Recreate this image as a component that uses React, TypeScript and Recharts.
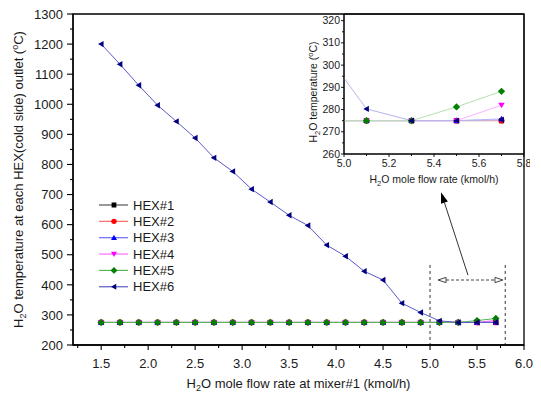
import React from 'react';
import { LineChart, Line, XAxis, YAxis, ReferenceLine, ReferenceArea, Legend } from 'recharts';

// ---------- data ----------
const flowRates = [1.5, 1.7, 1.9, 2.1, 2.3, 2.5, 2.7, 2.9, 3.1, 3.3, 3.5, 3.7, 3.9, 4.1, 4.3, 4.5, 4.7, 4.9, 5.1, 5.3, 5.5, 5.7];
const hex1 = [275, 275, 275, 275, 275, 275, 275, 275, 275, 275, 275, 275, 275, 275, 275, 275, 275, 275, 275, 275, 275, 275];
const hex2 = [275, 275, 275, 275, 275, 275, 275, 275, 275, 275, 275, 275, 275, 275, 275, 275, 275, 275, 275, 275, 275, 275];
const hex3 = [275, 275, 275, 275, 275, 275, 275, 275, 275, 275, 275, 275, 275, 275, 275, 275, 275, 275, 275, 275, 275, 275.8];
const hex4 = [275, 275, 275, 275, 275, 275, 275, 275, 275, 275, 275, 275, 275, 275, 275, 275, 275, 275, 275, 275, 275, 282];
const hex5 = [275, 275, 275, 275, 275, 275, 275, 275, 275, 275, 275, 275, 275, 275, 275, 275, 275, 275, 275, 275, 281.2, 288.2];
const hex6 = [1200, 1133, 1063, 997, 943, 888, 822, 777, 718, 675, 631, 597, 532, 495, 445, 416, 339, 308, 280.3, 275, 275, 275.4];

const seriesNames = ['HEX#1', 'HEX#2', 'HEX#3', 'HEX#4', 'HEX#5', 'HEX#6'];
const seriesKeys = ['hex1', 'hex2', 'hex3', 'hex4', 'hex5', 'hex6'];
const seriesValues = [hex1, hex2, hex3, hex4, hex5, hex6];
const markerColors = ['#000000', '#ff0000', '#0000ff', '#ff00ff', '#008000', '#000080'];
const lineColors = ['#555555', '#ff6a6a', '#6a6aff', '#ff6aff', '#55b855', '#5a5ac8'];
const insetLineColors = ['#9a9a9a', '#ffb0b0', '#b8b8ff', '#ffb0ff', '#b3e0b3', '#b4b4ea'];
const markerShapes = ['square', 'circle', 'up', 'down', 'diamond', 'left'];

const mainXTicks = [1.25, 1.5, 1.75, 2.0, 2.25, 2.5, 2.75, 3.0, 3.25, 3.5, 3.75, 4.0, 4.25, 4.5, 4.75, 5.0, 5.25, 5.5, 5.75, 6.0];
const mainXMajor = [1.5, 2.0, 2.5, 3.0, 3.5, 4.0, 4.5, 5.0, 5.5, 6.0];
const mainYTicks = [200, 250, 300, 350, 400, 450, 500, 550, 600, 650, 700, 750, 800, 850, 900, 950, 1000, 1050, 1100, 1150, 1200, 1250, 1300];
const mainYMajor = [200, 300, 400, 500, 600, 700, 800, 900, 1000, 1100, 1200, 1300];
const insetXTicks = [5.0, 5.1, 5.2, 5.3, 5.4, 5.5, 5.6, 5.7, 5.8];
const insetXMajor = [5.0, 5.2, 5.4, 5.6, 5.8];
const insetYTicks = [260, 265, 270, 275, 280, 285, 290, 295, 300, 305, 310, 315, 320];
const insetYMajor = [260, 270, 280, 290, 300, 310, 320];

// annotation positions (data units)
const zoomBoxX = [5.0, 5.8];
const zoomBoxTopY = 466;
const doubleArrowY = 416;
const doubleArrowX = [5.085, 5.776];
const arrowTail = { x: 5.404, y: 432 };
const arrowHead = { x: 5.117, y: 708 };

const tableData = flowRates.map((x, i) => {
  const row: any = { x };
  seriesKeys.forEach((k, j) => (row[k] = seriesValues[j][i]));
  return row;
});
const insetData = tableData.slice(17);

const FONT = '"Liberation Sans", Arial, sans-serif';
const TXT = '#1a1a1a';

// ---------- helpers ----------
const isIn = (v: number, arr: number[]) => arr.some((a) => Math.abs(a - v) < 1e-6);

function markerPath(shape: string, cx: number, cy: number, s: number) {
  switch (shape) {
    case 'square':
      return `M${cx - s * 0.8},${cy - s * 0.8}h${s * 1.6}v${s * 1.6}h${-s * 1.6}Z`;
    case 'up':
      return `M${cx},${cy - s}L${cx + s},${cy + s * 0.75}L${cx - s},${cy + s * 0.75}Z`;
    case 'down':
      return `M${cx},${cy + s}L${cx + s},${cy - s * 0.75}L${cx - s},${cy - s * 0.75}Z`;
    case 'left':
      return `M${cx - s},${cy}L${cx + s * 0.75},${cy - s}L${cx + s * 0.75},${cy + s}Z`;
    case 'diamond':
      return `M${cx},${cy - s * 1.15}L${cx + s * 1.15},${cy}L${cx},${cy + s * 1.15}L${cx - s * 1.15},${cy}Z`;
    default:
      return '';
  }
}

function Marker({ shape, cx, cy, s, color }: any) {
  if (shape === 'circle') return <circle cx={cx} cy={cy} r={s * 0.9} fill={color} />;
  return <path d={markerPath(shape, cx, cy, s)} fill={color} />;
}

const makeDot = (shape: string, color: string, s: number) => (p: any) => {
  if (p.cx == null || p.cy == null) return <g key={`d${p.index}`} />;
  return (
    <g key={`d${p.index}`}>
      <Marker shape={shape} cx={p.cx} cy={p.cy} s={s} color={color} />
    </g>
  );
};

const MainXTick = (p: any) => {
  const v = p.payload.value;
  const major = isIn(v, mainXMajor);
  return (
    <g>
      <line x1={p.x} x2={p.x} y1={p.y} y2={p.y + (major ? 5 : 3)} stroke="#000" strokeWidth={1.1} />
      {major && (
        <text x={p.x} y={p.y + 23} textAnchor="middle" fontSize={13} fontFamily={FONT} fill={TXT}>
          {v.toFixed(1)}
        </text>
      )}
    </g>
  );
};

const MainYTick = (p: any) => {
  const v = p.payload.value;
  const major = isIn(v, mainYMajor);
  return (
    <g>
      <line x1={p.x} x2={p.x - (major ? 6 : 3)} y1={p.y} y2={p.y} stroke="#000" strokeWidth={1.1} />
      {major && (
        <text x={p.x - 10} y={p.y + 4.7} textAnchor="end" fontSize={13} fontFamily={FONT} fill={TXT}>
          {String(v)}
        </text>
      )}
    </g>
  );
};

const InsetXTick = (p: any) => {
  const v = p.payload.value;
  const major = isIn(v, insetXMajor);
  return (
    <g>
      <line x1={p.x} x2={p.x} y1={p.y} y2={p.y + (major ? 3 : 2)} stroke="#000" strokeWidth={0.9} />
      {major && (
        <text x={p.x} y={p.y + 13} textAnchor="middle" fontSize={10.5} fontFamily={FONT} fill={TXT}>
          {v.toFixed(1)}
        </text>
      )}
    </g>
  );
};

const InsetYTick = (p: any) => {
  const v = p.payload.value;
  const major = isIn(v, insetYMajor);
  return (
    <g>
      <line x1={p.x} x2={p.x - (major ? 3 : 2)} y1={p.y} y2={p.y} stroke="#000" strokeWidth={0.9} />
      {major && (
        <text x={p.x - 4} y={p.y + 3.6} textAnchor="end" fontSize={10.5} fontFamily={FONT} fill={TXT}>
          {String(v)}
        </text>
      )}
    </g>
  );
};

const arrowShape = (p: any) => {
  const { x1, y1, x2, y2 } = p;
  const ang = Math.atan2(y2 - y1, x2 - x1);
  const L = 11;
  const W = 3.6;
  const bx = x2 - L * Math.cos(ang);
  const by = y2 - L * Math.sin(ang);
  const px = -Math.sin(ang) * W;
  const py = Math.cos(ang) * W;
  return (
    <g>
      <line x1={x1} y1={y1} x2={bx} y2={by} stroke="#333" strokeWidth={1} />
      <polygon points={`${x2},${y2} ${bx + px},${by + py} ${bx - px},${by - py}`} fill="#000" />
    </g>
  );
};

const doubleArrowShape = (p: any) => {
  const { x1, y1, x2, y2 } = p;
  const L = 8;
  const W = 2.6;
  return (
    <g stroke="#444" strokeWidth={1} fill="none">
      <line x1={x1 + L} y1={y1} x2={x2 - L} y2={y2} strokeDasharray="3 2" />
      <polygon points={`${x1},${y1} ${x1 + L},${y1 - W} ${x1 + L},${y1 + W}`} fill="#fff" />
      <polygon points={`${x2},${y2} ${x2 - L},${y2 - W} ${x2 - L},${y2 + W}`} fill="#fff" />
    </g>
  );
};

const LegendContent = () => (
  <svg width={110} height={105} style={{ display: 'block', overflow: 'visible' }}>
    {seriesNames.map((n, i) => {
      const y = 8 + i * 16.35;
      return (
        <g key={n}>
          <line x1={4} x2={33} y1={y} y2={y} stroke={lineColors[i]} strokeWidth={1.2} />
          <Marker shape={markerShapes[i]} cx={19} cy={y} s={3} color={markerColors[i]} />
          <text x={38} y={y + 4.7} fontSize={13} fontFamily={FONT} fill={TXT}>
            {n}
          </text>
        </g>
      );
    })}
  </svg>
);

const MainYLabel = (p: any) => {
  const vb = p.viewBox;
  const x = 23;
  const y = vb.y + vb.height / 2;
  return (
    <text transform={`rotate(-90 ${x} ${y})`} x={x} y={y} textAnchor="middle" fontSize={13} fontFamily={FONT} fill={TXT}>
      H<tspan fontSize={9} dy={3}>2</tspan>
      <tspan dy={-3}>O temperature at each HEX(cold side) outlet (</tspan>
      <tspan fontSize={9} dy={-5}>o</tspan>
      <tspan dy={5}>C)</tspan>
    </text>
  );
};

const MainXLabel = (p: any) => {
  const vb = p.viewBox;
  return (
    <text x={vb.x + vb.width / 2} y={vb.y + 43} textAnchor="middle" fontSize={13} fontFamily={FONT} fill={TXT}>
      H<tspan fontSize={9} dy={3}>2</tspan>
      <tspan dy={-3}>O mole flow rate at mixer#1 (kmol/h)</tspan>
    </text>
  );
};

const InsetYLabel = (p: any) => {
  const x = 27;
  const y = 92;
  return (
    <text transform={`rotate(-90 ${x} ${y})`} x={x} y={y} textAnchor="middle" fontSize={10.5} fontFamily={FONT} fill={TXT}>
      H<tspan fontSize={7.5} dy={2.5}>2</tspan>
      <tspan dy={-2.5}>O temperature (</tspan>
      <tspan fontSize={7.5} dy={-4}>o</tspan>
      <tspan dy={4}>C)</tspan>
    </text>
  );
};

const InsetXLabel = (p: any) => {
  const vb = p.viewBox;
  return (
    <text x={vb.x + vb.width / 2} y={vb.y + 29} textAnchor="middle" fontSize={10.5} fontFamily={FONT} fill={TXT}>
      H<tspan fontSize={7.5} dy={2.5}>2</tspan>
      <tspan dy={-2.5}>O mole flow rate (kmol/h)</tspan>
    </text>
  );
};

export default function App() {
  return (
    <div style={{ position: 'absolute', left: 0, top: 0, width: 541, height: 395, background: '#fff' }}>
      <LineChart width={541} height={395} data={tableData} margin={{ top: 14, right: 17, bottom: 0, left: 0 }}>
        <XAxis
          dataKey="x"
          type="number"
          domain={[1.2, 6.0]}
          ticks={mainXTicks}
          interval={0}
          tickSize={0}
          tickMargin={0}
          tickLine={false}
          tick={MainXTick}
          height={50}
          axisLine={{ stroke: '#000', strokeWidth: 1.3 }}
          label={{ content: MainXLabel }}
        />
        <YAxis
          type="number"
          domain={[200, 1300]}
          ticks={mainYTicks}
          interval={0}
          tickSize={0}
          tickMargin={0}
          tickLine={false}
          tick={MainYTick}
          width={73}
          axisLine={{ stroke: '#000', strokeWidth: 1.3 }}
          label={{ content: MainYLabel }}
        />
        <ReferenceArea x1={1.2} x2={6.0} y1={200} y2={1300} fill="none" stroke="#000" strokeWidth={1.3} />
        <ReferenceLine
          segment={[{ x: zoomBoxX[0], y: zoomBoxTopY }, { x: zoomBoxX[0], y: 200 }]}
          stroke="#333"
          strokeDasharray="3 3"
          strokeWidth={1}
        />
        <ReferenceLine
          segment={[{ x: zoomBoxX[1], y: zoomBoxTopY }, { x: zoomBoxX[1], y: 200 }]}
          stroke="#333"
          strokeDasharray="3 3"
          strokeWidth={1}
        />
        <ReferenceLine
          segment={[{ x: doubleArrowX[0], y: doubleArrowY }, { x: doubleArrowX[1], y: doubleArrowY }]}
          shape={doubleArrowShape}
        />
        <ReferenceLine segment={[arrowTail, arrowHead]} shape={arrowShape} />
        {seriesKeys.map((k, i) => (
          <Line
            key={k}
            dataKey={k}
            name={seriesNames[i]}
            stroke={lineColors[i]}
            strokeWidth={1}
            dot={makeDot(markerShapes[i], markerColors[i], 3.2)}
            activeDot={false}
            isAnimationActive={false}
          />
        ))}
        <Legend
          layout="horizontal"
          verticalAlign="middle"
          align="center"
          content={LegendContent}
          wrapperStyle={{ position: 'absolute', left: 95, top: 197, width: 110, height: 105 }}
        />
      </LineChart>

      <div style={{ position: 'absolute', left: 290, top: 0, width: 240, height: 200 }}>
        <LineChart width={240} height={200} data={insetData} margin={{ top: 14, right: 6, bottom: 0, left: 0 }}>
          <XAxis
            dataKey="x"
            type="number"
            domain={[5.0, 5.8]}
            allowDataOverflow
            ticks={insetXTicks}
            interval={0}
            tickSize={0}
            tickMargin={0}
            tickLine={false}
            tick={InsetXTick}
            height={46}
            axisLine={{ stroke: '#000', strokeWidth: 1 }}
            label={{ content: InsetXLabel }}
          />
          <YAxis
            type="number"
            domain={[260, 323]}
            allowDataOverflow
            ticks={insetYTicks}
            interval={0}
            tickSize={0}
            tickMargin={0}
            tickLine={false}
            tick={InsetYTick}
            width={54}
            axisLine={{ stroke: '#000', strokeWidth: 1 }}
            label={{ content: InsetYLabel }}
          />
          <ReferenceArea x1={5.0} x2={5.8} y1={260} y2={323} fill="#fff" fillOpacity={0} stroke="#000" strokeWidth={1} />
          {seriesKeys.map((k, i) => (
            <Line
              key={k}
              dataKey={k}
              name={seriesNames[i]}
              stroke={insetLineColors[i]}
              strokeWidth={1}
              dot={makeDot(markerShapes[i], markerColors[i], 3.2)}
              activeDot={false}
              isAnimationActive={false}
            />
          ))}
        </LineChart>
      </div>
    </div>
  );
}
